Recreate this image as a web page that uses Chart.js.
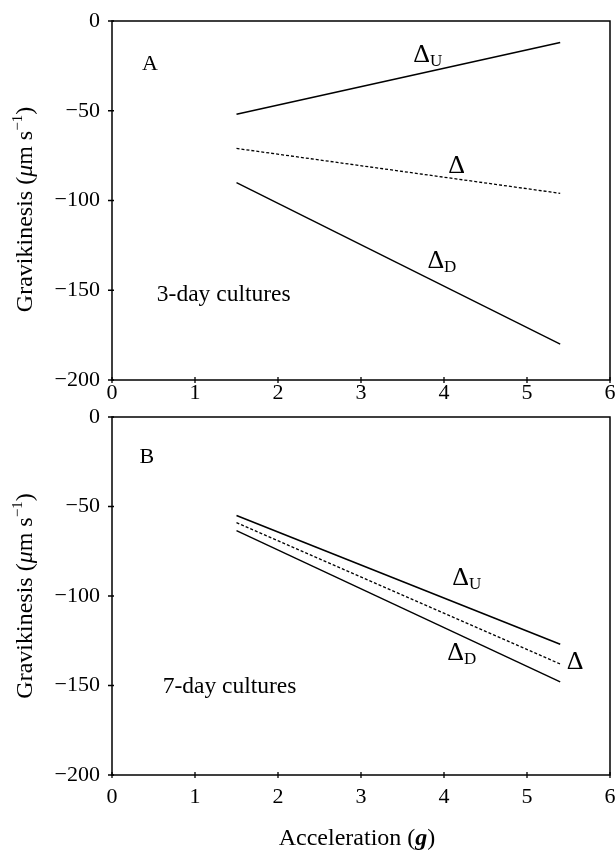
<!DOCTYPE html>
<html>
<head>
<meta charset="utf-8">
<script src="https://cdn.jsdelivr.net/npm/chart.js@4.4.1/dist/chart.umd.min.js"></script>
<style>
html, body { margin: 0; padding: 0; background: #fff; }
#wrap { position: relative; width: 615px; height: 850px; }
#wrap canvas { position: absolute; left: 0; top: 0; }
</style>
</head>
<body>
<div id="wrap">
  <canvas id="chartA" width="615" height="850"></canvas>
  <canvas id="chartB" width="615" height="850"></canvas>
</div>
<script>
// acceleration range of the fitted lines (g)
const accel = [1.5, 5.4];

// 3-day cultures (um/s)
const day3Up = [-52, -12];
const day3Mean = [-71, -96];
const day3Down = [-90, -180];

// 7-day cultures (um/s)
const day7Up = [-55, -127];
const day7Mean = [-59, -138];
const day7Down = [-63.5, -148];

const xTicks = [0, 1, 2, 3, 4, 5, 6];
const yTicks = [0, -50, -100, -150, -200];

// text placed in data units (left edge, baseline)
const notesA = [
    { text: 'A', x: 0.36, y: -27.5, size: 22 },
    { text: '3-day cultures', x: 0.54, y: -156, size: 23.5 },
    { text: 'Δ', sub: 'U', x: 3.63, y: -23, size: 26 },
    { text: 'Δ', x: 4.05, y: -84.5, size: 26 },
    { text: 'Δ', sub: 'D', x: 3.8, y: -137.5, size: 26 }
];
const notesB = [
    { text: 'B', x: 0.33, y: -25.7, size: 22 },
    { text: '7-day cultures', x: 0.61, y: -154, size: 23.5 },
    { text: 'Δ', sub: 'U', x: 4.1, y: -94, size: 26 },
    { text: 'Δ', sub: 'D', x: 4.04, y: -136, size: 26 },
    { text: 'Δ', x: 5.48, y: -141, size: 26 }
];

const SERIF = '"Liberation Serif", "Times New Roman", serif';
Chart.defaults.font.family = SERIF;
Chart.defaults.color = '#000';

function pts(ys) {
    return accel.map((x, i) => ({ x: x, y: ys[i] }));
}

function drawRuns(ctx, runs, x, y, align) {
    let total = 0;
    runs.forEach(r => { ctx.font = r.font; total += ctx.measureText(r.t).width; });
    let cx = align === 'center' ? x - total / 2 : x;
    runs.forEach(r => {
        ctx.font = r.font;
        ctx.fillText(r.t, cx, y + (r.dy || 0));
        cx += ctx.measureText(r.t).width;
    });
}

const framePlugin = {
    id: 'frame',
    afterDraw(chart, args, opts) {
        const ctx = chart.ctx;
        const a = chart.chartArea;
        const xs = chart.scales.x, ys = chart.scales.y;
        ctx.save();
        ctx.strokeStyle = '#000';
        ctx.fillStyle = '#000';
        ctx.lineWidth = 1.5;
        ctx.strokeRect(a.left, a.top, a.right - a.left, a.bottom - a.top);

        // crossing tick marks
        ctx.lineWidth = 1.3;
        ctx.beginPath();
        xTicks.forEach(v => {
            const px = xs.getPixelForValue(v);
            ctx.moveTo(px, a.bottom - 3);
            ctx.lineTo(px, a.bottom + 3);
        });
        yTicks.forEach(v => {
            const py = ys.getPixelForValue(v);
            ctx.moveTo(a.left - 4, py);
            ctx.lineTo(a.left + 2, py);
        });
        ctx.stroke();

        // annotations
        ctx.textBaseline = 'alphabetic';
        ctx.textAlign = 'left';
        opts.notes.forEach(n => {
            const px = xs.getPixelForValue(n.x);
            const py = ys.getPixelForValue(n.y);
            const runs = [{ t: n.text, font: n.size + 'px ' + SERIF }];
            if (n.sub) runs.push({ t: n.sub, font: '17px ' + SERIF, dy: 4 });
            drawRuns(ctx, runs, px, py, 'left');
        });

        // y title, rotated
        ctx.translate(32, (a.top + a.bottom) / 2 + opts.titleShift);
        ctx.rotate(-Math.PI / 2);
        drawRuns(ctx, [
            { t: 'Gravikinesis (', font: '24px ' + SERIF },
            { t: 'μ', font: 'italic 24px ' + SERIF },
            { t: 'm s', font: '24px ' + SERIF },
            { t: '−1', font: '15px ' + SERIF, dy: -10 },
            { t: ')', font: '24px ' + SERIF }
        ], 0, 0, 'center');
        ctx.restore();

        if (opts.xTitle) {
            ctx.save();
            ctx.fillStyle = '#000';
            ctx.textBaseline = 'alphabetic';
            drawRuns(ctx, [
                { t: 'Acceleration (', font: '24px ' + SERIF },
                { t: 'g', font: 'italic bold 24px ' + SERIF },
                { t: ')', font: '24px ' + SERIF }
            ], (a.left + a.right) / 2 - 4, 845, 'center');
            ctx.restore();
        }
    }
};

function makePanel(id, up, mean, down, notes, top, bottom, xPad, xTitle, titleShift) {
    const line = (ys, dash, w) => ({
        data: pts(ys),
        borderColor: '#000',
        borderWidth: w,
        borderDash: dash,
        pointRadius: 0,
        fill: false,
        tension: 0
    });
    return new Chart(document.getElementById(id), {
        type: 'line',
        data: {
            datasets: [
                line(up, [], 1.6),
                line(mean, [3, 2], 1.3),
                line(down, [], 1.4)
            ]
        },
        options: {
            responsive: false,
            animation: false,
            events: [],
            layout: { padding: { left: 0, right: 5, top: top, bottom: 850 - bottom - 30 } },
            plugins: {
                legend: { display: false },
                tooltip: { enabled: false },
                frame: { notes: notes, xTitle: xTitle, titleShift: titleShift }
            },
            scales: {
                x: {
                    type: 'linear',
                    min: xTicks[0],
                    max: xTicks[xTicks.length - 1],
                    afterBuildTicks: s => { s.ticks = xTicks.map(v => ({ value: v })); },
                    afterFit: s => { s.height = 30; s.paddingLeft = 0; s.paddingRight = 0; },
                    grid: { display: false, drawTicks: false, tickLength: 0 },
                    border: { display: false },
                    ticks: { font: { size: 22 }, padding: xPad, maxRotation: 0, autoSkip: false }
                },
                y: {
                    type: 'linear',
                    min: yTicks[yTicks.length - 1],
                    max: yTicks[0],
                    afterBuildTicks: s => { s.ticks = yTicks.map(v => ({ value: v })); },
                    afterFit: s => { s.width = 112; s.paddingTop = 0; s.paddingBottom = 0; },
                    grid: { display: false, drawTicks: false, tickLength: 0 },
                    border: { display: false },
                    ticks: {
                        font: { size: 22 },
                        padding: 12,
                        callback: v => String(v).replace('-', '−')
                    }
                }
            }
        },
        plugins: [framePlugin]
    });
}

makePanel('chartA', day3Up, day3Mean, day3Down, notesA, 21, 380, 0, false, 9);
makePanel('chartB', day7Up, day7Mean, day7Down, notesB, 417, 775, 9, true, 0);
</script>
</body>
</html>
